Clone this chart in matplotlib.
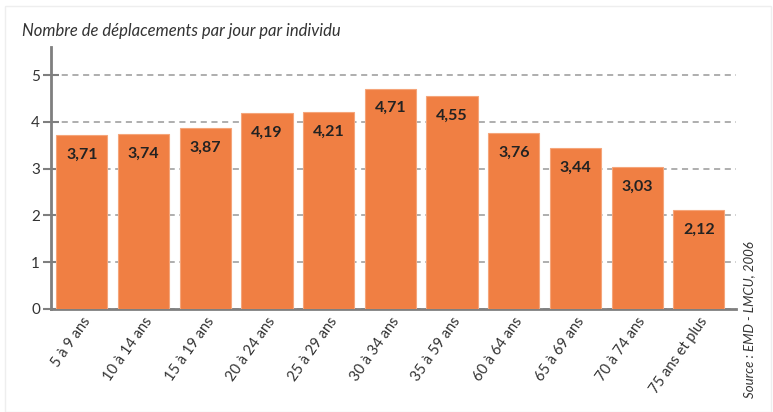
import matplotlib
matplotlib.use("Agg")
import matplotlib.pyplot as plt
from matplotlib.patches import Rectangle

categories = ["5 à 9 ans", "10 à 14 ans", "15 à 19 ans", "20 à 24 ans", "25 à 29 ans",
              "30 à 34 ans", "35 à 59 ans", "60 à 64 ans", "65 à 69 ans", "70 à 74 ans",
              "75 ans et plus"]
values = [3.71, 3.74, 3.87, 4.19, 4.21, 4.71, 4.55, 3.76, 3.44, 3.03, 2.12]
yticks = [0, 1, 2, 3, 4, 5]

plt.rcParams["font.family"] = ["Lato", "DejaVu Sans"]

fig = plt.figure(figsize=(7.73, 4.12), dpi=100)
ax = fig.add_axes([0.066, 0.25, 0.886, 0.636])

orange = "#F07F43"
x = range(len(categories))
bars = ax.bar(x, values, width=0.83, color=orange, edgecolor="#F5A57A", linewidth=0.8, zorder=3)
for b, v in zip(bars, values):
    ax.text(b.get_x() + b.get_width() / 2, v - 0.27, f"{v:.2f}".replace(".", ","),
            ha="center", va="top", fontsize=11.5, fontweight="bold", color="#222222", zorder=4)

ax.set_xlim(-0.5, 10.6)
ax.set_ylim(0, 5.6)
ax.set_yticks(yticks)
ax.set_yticklabels([str(t) for t in yticks], fontsize=11, color="#333333")
ax.yaxis.grid(True, linestyle=(0, (4, 3)), color="#999999", linewidth=1.1, zorder=1)
ax.tick_params(axis="y", direction="inout", length=12, width=1.5, color="#7f7f7f", pad=2)
ax.set_xticks(list(x))
ax.set_xticklabels(categories, rotation=55, ha="right", rotation_mode="anchor",
                   fontsize=10.5, color="#333333")
ax.tick_params(axis="x", length=0, pad=4)

for s in ["top", "right"]:
    ax.spines[s].set_visible(False)
for s in ["left", "bottom"]:
    ax.spines[s].set_color("#7f7f7f")
    ax.spines[s].set_linewidth(2)

fig.text(0.028, 0.925, "Nombre de déplacements par jour par individu", fontsize=12,
         style="italic", color="#333333", ha="left", va="center")
fig.text(0.961, 0.035, "Source : EMD - LMCU, 2006", fontsize=9.5, style="italic",
         color="#333333", rotation=90, ha="left", va="bottom")

fig.patches.append(Rectangle((0.007, 0.0), 0.99, 0.985, transform=fig.transFigure,
                             fill=False, edgecolor="#eeeeee", linewidth=1))

fig.savefig("out.png", dpi=100)
